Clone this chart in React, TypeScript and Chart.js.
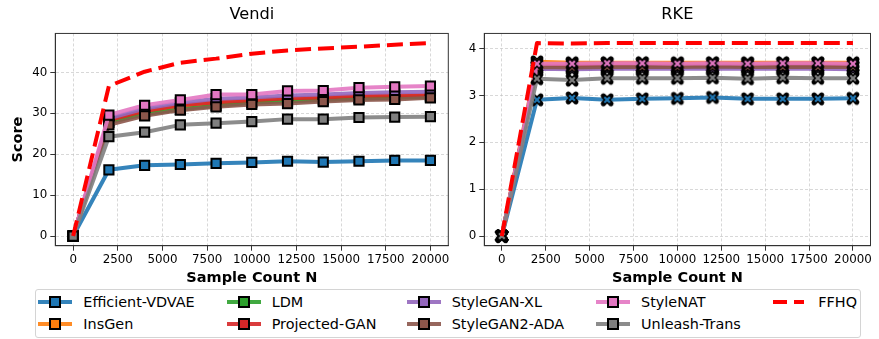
import React, { useEffect, useRef } from "react";
import { Chart, registerables } from "chart.js";
Chart.register(...registerables);

// ---------- data ----------
const SAMPLE_N = [0, 2000, 4000, 6000, 8000, 10000, 12000, 14000, 16000, 18000, 20000];
const X_TICKS = [0, 2500, 5000, 7500, 10000, 12500, 15000, 17500, 20000];
const VENDI_TICKS = [0, 10, 20, 30, 40];
const RKE_TICKS = [0, 1, 2, 3, 4];

const MODELS = [
  "Efficient-VDVAE",
  "InsGen",
  "LDM",
  "Projected-GAN",
  "StyleGAN-XL",
  "StyleGAN2-ADA",
  "StyleNAT",
  "Unleash-Trans",
  "FFHQ",
];
const COLORS = ["#1f77b4", "#ff7f0e", "#2ca02c", "#d62728", "#9467bd", "#8c564b", "#e377c2", "#7f7f7f", "#ff0000"];

const VENDI_VDVAE = [0, 16.2, 17.3, 17.5, 17.8, 18.0, 18.3, 18.1, 18.3, 18.5, 18.5];
const VENDI_INSGEN = [0, 28.2, 30.4, 31.8, 32.5, 33.0, 33.5, 33.7, 34.0, 34.2, 34.3];
const VENDI_LDM = [0, 27.8, 29.8, 31.0, 31.9, 32.6, 33.0, 33.3, 33.6, 33.8, 34.0];
const VENDI_PROJGAN = [0, 28.4, 30.6, 32.0, 32.7, 33.2, 33.7, 33.9, 34.3, 34.4, 34.5];
const VENDI_SGXL = [0, 28.8, 31.2, 32.6, 33.6, 33.9, 34.4, 34.6, 35.0, 35.2, 35.3];
const VENDI_SG2ADA = [0, 27.2, 29.4, 30.8, 31.6, 32.2, 32.4, 32.9, 33.3, 33.4, 33.8];
const VENDI_STYLENAT = [0, 29.6, 32.0, 33.3, 34.6, 34.6, 35.5, 35.6, 36.3, 36.5, 36.7];
const VENDI_UNLEASH = [0, 24.3, 25.4, 27.2, 27.6, 28.0, 28.6, 28.6, 29.0, 29.1, 29.2];
const VENDI_FFHQ = [0, 36.7, 40.2, 42.4, 43.4, 44.6, 45.4, 45.9, 46.3, 46.8, 47.2];

const RKE_VDVAE = [0, 2.91, 2.95, 2.91, 2.93, 2.94, 2.96, 2.93, 2.93, 2.93, 2.94];
const RKE_INSGEN = [0, 3.72, 3.7, 3.7, 3.7, 3.7, 3.7, 3.7, 3.7, 3.7, 3.7];
const RKE_LDM = [0, 3.62, 3.61, 3.62, 3.62, 3.62, 3.62, 3.61, 3.62, 3.62, 3.62];
const RKE_PROJGAN = [0, 3.63, 3.63, 3.63, 3.63, 3.63, 3.63, 3.63, 3.63, 3.63, 3.63];
const RKE_SGXL = [0, 3.57, 3.56, 3.57, 3.57, 3.57, 3.57, 3.57, 3.57, 3.57, 3.56];
const RKE_SG2ADA = [0, 3.61, 3.6, 3.61, 3.61, 3.61, 3.62, 3.61, 3.61, 3.61, 3.61];
const RKE_STYLENAT = [0, 3.68, 3.68, 3.69, 3.69, 3.68, 3.69, 3.68, 3.69, 3.69, 3.68];
const RKE_UNLEASH = [0, 3.36, 3.33, 3.37, 3.37, 3.37, 3.38, 3.36, 3.38, 3.37, 3.37];
const RKE_FFHQ = [0, 4.12, 4.11, 4.12, 4.12, 4.12, 4.12, 4.12, 4.12, 4.12, 4.12];

const VENDI_SERIES = [VENDI_VDVAE, VENDI_INSGEN, VENDI_LDM, VENDI_PROJGAN, VENDI_SGXL, VENDI_SG2ADA, VENDI_STYLENAT, VENDI_UNLEASH, VENDI_FFHQ];
const RKE_SERIES = [RKE_VDVAE, RKE_INSGEN, RKE_LDM, RKE_PROJGAN, RKE_SGXL, RKE_SG2ADA, RKE_STYLENAT, RKE_UNLEASH, RKE_FFHQ];

// legend layout: column-major, 2 rows
const LEGEND_ORDER = [
  [0, 2, 4, 6, 8],
  [1, 3, 5, 7],
];

const FONT = "'DejaVu Sans', sans-serif";

function withAlpha(hex: string, a: number) {
  const r = parseInt(hex.slice(1, 3), 16);
  const g = parseInt(hex.slice(3, 5), 16);
  const b = parseInt(hex.slice(5, 7), 16);
  return `rgba(${r},${g},${b},${a})`;
}

function makeXMarker(color: string) {
  const c = document.createElement("canvas");
  c.width = 16;
  c.height = 16;
  const g = c.getContext("2d")!;
  g.lineCap = "round";
  g.strokeStyle = "#000";
  g.lineWidth = 5.2;
  g.beginPath();
  g.moveTo(4.2, 4.2);
  g.lineTo(11.8, 11.8);
  g.moveTo(11.8, 4.2);
  g.lineTo(4.2, 11.8);
  g.stroke();
  g.lineCap = "butt";
  g.strokeStyle = color;
  g.lineWidth = 2.2;
  g.beginPath();
  g.moveTo(5.2, 5.2);
  g.lineTo(10.8, 10.8);
  g.moveTo(10.8, 5.2);
  g.lineTo(5.2, 10.8);
  g.stroke();
  return c;
}

const framePlugin = {
  id: "frame",
  afterDatasetsDraw(chart: any) {
    const { ctx, chartArea: a } = chart;
    ctx.save();
    ctx.strokeStyle = "#333";
    ctx.lineWidth = 1;
    ctx.strokeRect(a.left, a.top, a.right - a.left, a.bottom - a.top);
    ctx.restore();
  },
};

interface PanelCfg {
  title: string;
  series: number[][];
  yMin: number;
  yMax: number;
  yTicks: number[];
  yAxisWidth: number;
  yTitle: boolean;
  rightPad: number;
  xMarker: boolean;
}

function buildConfig(p: PanelCfg): any {
  const datasets = p.series.map((vals, i) => {
    const isRef = MODELS[i] === "FFHQ";
    const color = COLORS[i];
    return {
      label: MODELS[i],
      data: SAMPLE_N.map((n, k) => ({ x: n, y: vals[k] })),
      borderColor: isRef ? color : withAlpha(color, 0.9),
      borderWidth: 4,
      borderDash: isRef ? [16, 7] : [],
      borderCapStyle: "butt",
      borderJoinStyle: "round",
      pointRadius: isRef ? 0 : 6.5,
      pointStyle: isRef ? "rect" : p.xMarker ? makeXMarker(color) : "rect",
      pointBackgroundColor: color,
      pointBorderColor: "#000",
      pointBorderWidth: 2,
      fill: false,
      tension: 0,
      order: -i,
    };
  });
  return {
    type: "line",
    data: { datasets },
    plugins: [framePlugin],
    options: {
      animation: false,
      responsive: false,
      maintainAspectRatio: false,
      events: [],
      layout: { padding: { left: 0, right: p.rightPad, top: 0, bottom: 0 } },
      plugins: {
        legend: { display: false },
        tooltip: { enabled: false },
        title: {
          display: true,
          text: p.title,
          fullSize: false,
          color: "#000",
          font: { family: FONT, size: 16.2, weight: "normal" },
          padding: { top: 5, bottom: 9 },
        },
      },
      scales: {
        x: {
          type: "linear",
          min: -1000,
          max: 21000,
          afterBuildTicks(scale: any) {
            scale.ticks = X_TICKS.map((v) => ({ value: v }));
          },
          afterFit(scale: any) {
            scale.height = 44.3;
            scale.paddingLeft = 0;
            scale.paddingRight = 0;
          },
          ticks: {
            color: "#000",
            font: { family: FONT, size: 11.85 },
            padding: 2,
            maxRotation: 0,
            autoSkip: false,
            callback: (v: any) => String(v),
          },
          grid: {
            color: "rgba(190,190,190,0.75)",
            lineWidth: 0.8,
            tickColor: "#333",
            tickLength: 5,
            tickWidth: 1,
          },
          border: { display: true, color: "#333", width: 1, dash: [3, 2] },
          title: {
            display: true,
            text: "Sample Count N",
            color: "#000",
            font: { family: FONT, size: 14.5, weight: "bold" },
            padding: { top: 0, bottom: 3.3 },
          },
        },
        y: {
          type: "linear",
          min: p.yMin,
          max: p.yMax,
          afterBuildTicks(scale: any) {
            scale.ticks = p.yTicks.map((v) => ({ value: v }));
          },
          afterFit(scale: any) {
            scale.width = p.yAxisWidth;
            scale.paddingTop = 0;
            scale.paddingBottom = 0;
          },
          ticks: {
            color: "#000",
            font: { family: FONT, size: 11.85 },
            padding: 3,
            autoSkip: false,
            callback: (v: any) => String(v),
          },
          grid: {
            color: "rgba(190,190,190,0.75)",
            lineWidth: 0.8,
            tickColor: "#333",
            tickLength: 5,
            tickWidth: 1,
          },
          border: { display: true, color: "#333", width: 1, dash: [3, 2] },
          title: {
            display: p.yTitle,
            text: "Score",
            color: "#000",
            font: { family: FONT, size: 14.5, weight: "bold" },
            padding: { top: 10, bottom: 0 },
          },
        },
      },
    },
  };
}

function Panel(props: { cfg: PanelCfg; left: number; width: number; height: number }) {
  const ref = useRef<HTMLCanvasElement | null>(null);
  useEffect(() => {
    if (!ref.current) return;
    const chart = new Chart(ref.current, buildConfig(props.cfg));
    return () => chart.destroy();
  }, []);
  return (
    <canvas
      ref={ref}
      width={props.width}
      height={props.height}
      style={{ position: "absolute", left: props.left, top: 0, width: props.width, height: props.height }}
    />
  );
}

const COL_HANDLE_X = [38.3, 226.7, 406.7, 596, 773.3];
const ROW_Y = [301.7, 324.3];

function LegendHandle({ idx }: { idx: number }) {
  const color = COLORS[idx];
  if (MODELS[idx] === "FFHQ") {
    return (
      <div style={{ position: "relative", width: 34, height: 4 }}>
        <div style={{ position: "absolute", left: 0, top: 0, width: 14, height: 4, background: color }} />
        <div style={{ position: "absolute", left: 21, top: 0, width: 10, height: 4, background: color }} />
      </div>
    );
  }
  return (
    <div style={{ position: "relative", width: 34, height: 4 }}>
      <div style={{ position: "absolute", left: 0, top: 0, width: 34, height: 4, background: withAlpha(color, 0.9) }} />
      <div
        style={{
          position: "absolute",
          left: 17 - 6,
          top: 2 - 6,
          width: 8,
          height: 8,
          background: color,
          border: "2px solid #000",
        }}
      />
    </div>
  );
}

function Legend() {
  const items: any[] = [];
  LEGEND_ORDER.forEach((row, r) =>
    row.forEach((idx, c) => {
      items.push(
        <div
          key={idx}
          style={{
            position: "absolute",
            left: COL_HANDLE_X[c],
            top: ROW_Y[r] - 10,
            height: 20,
            display: "flex",
            alignItems: "center",
            whiteSpace: "nowrap",
          }}
        >
          <LegendHandle idx={idx} />
          <span style={{ marginLeft: 11, fontFamily: FONT, fontSize: 14.4, color: "#000", lineHeight: "20px" }}>
            {MODELS[idx]}
          </span>
        </div>
      );
    })
  );
  return (
    <>
      <div
        style={{
          position: "absolute",
          left: 34.7,
          top: 289,
          width: 826,
          height: 49,
          boxSizing: "border-box",
          border: "1px solid #d4d4d4",
          borderRadius: 3,
          background: "#fff",
        }}
      />
      {items}
    </>
  );
}

export default function App() {
  const vendi: PanelCfg = {
    title: "Vendi",
    series: VENDI_SERIES,
    yMin: -2.36,
    yMax: 49.56,
    yTicks: VENDI_TICKS,
    yAxisWidth: 55.3,
    yTitle: true,
    rightPad: 462 - 448.3,
    xMarker: false,
  };
  const rke: PanelCfg = {
    title: "RKE",
    series: RKE_SERIES,
    yMin: -0.206,
    yMax: 4.326,
    yTicks: RKE_TICKS,
    yAxisWidth: 484.3 - 462,
    yTitle: false,
    rightPad: 879 - 877.3,
    xMarker: true,
  };
  return (
    <div style={{ position: "absolute", left: 0, top: 0, width: 879, height: 339, background: "#fff", overflow: "hidden" }}>
      <Panel cfg={vendi} left={0} width={462} height={290} />
      <Panel cfg={rke} left={462} width={417} height={290} />
      <Legend />
    </div>
  );
}
